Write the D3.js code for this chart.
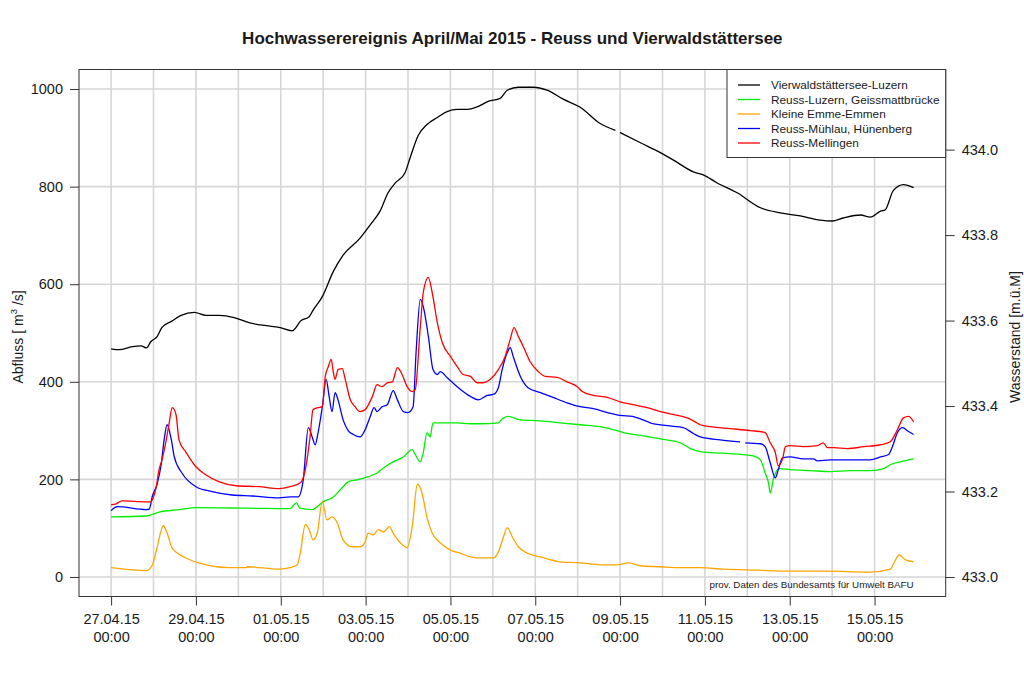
<!DOCTYPE html>
<html><head><meta charset="utf-8">
<script src="https://cdn.jsdelivr.net/npm/d3@7"></script>
<style>
body{margin:0;background:#fff}
text{font-family:"Liberation Sans",Arial,Helvetica,sans-serif;fill:#1a1a1a}
</style>
</head><body>
<svg id="chart" width="1024" height="683"></svg>
<script>
// ---------------- DATA ----------------
const titleText = "Hochwasserereignis April/Mai 2015 - Reuss und Vierwaldstättersee";
const startDate = new Date(2015, 3, 27, 0, 0);     // 27.04.15 00:00
// time given as days after 27.04.15 00:00
const xTickDays = [0, 2, 4, 6, 8, 10, 12, 14, 16, 18];
const gridDays = [0,1,2,3,4,5,6,7,8,9,10,11,12,13,14,15,16,17,18];
const flowTicks = [0, 200, 400, 600, 800, 1000];
const levelTicks = [433.0, 433.2, 433.4, 433.6, 433.8, 434.0];
const seriesNames = ["Vierwaldstättersee-Luzern", "Reuss-Luzern, Geissmattbrücke", "Kleine Emme-Emmen", "Reuss-Mühlau, Hünenberg", "Reuss-Mellingen"];
const seriesColors = ["#000000", "#00ee00", "#ffa500", "#0000ff", "#ff0000"];

// lake level [m ü.M.]
const lakeLevel = [[0.00,433.534],[0.19,433.532],[0.50,433.539],[0.71,433.541],[0.83,433.536],[0.94,433.551],[1.08,433.562],[1.20,433.584],[1.42,433.598],[1.65,433.612],[1.96,433.619],[2.24,433.612],[2.55,433.612],[2.90,433.607],[3.25,433.595],[3.66,433.588],[3.96,433.584],[4.27,433.576],[4.48,433.600],[4.67,433.609],[4.76,433.624],[4.98,433.656],[5.24,433.715],[5.47,433.753],[5.87,433.793],[6.11,433.824],[6.34,433.856],[6.53,433.899],[6.70,433.922],[6.93,433.946],[7.05,433.981],[7.24,434.033],[7.45,434.059],[7.69,434.075],[7.92,434.089],[8.16,434.094],[8.40,434.094],[8.66,434.101],[8.89,434.113],[9.17,434.120],[9.34,434.139],[9.60,434.146],[9.95,434.146],[10.28,434.139],[10.66,434.118],[11.06,434.099],[11.53,434.061],[11.89,434.045],[11.95,null],[12.00,434.040],[12.48,434.016],[12.95,433.993],[13.25,433.976],[13.73,433.948],[13.96,433.941],[14.29,433.922],[14.76,433.899],[15.31,433.864],[15.78,433.852],[16.25,433.845],[16.72,433.835],[17.00,433.833],[17.26,433.840],[17.67,433.847],[17.90,433.842],[18.14,433.856],[18.25,433.859],[18.44,433.904],[18.68,433.918],[18.92,433.911]];

// discharge [m3/s]
const reussLuzern = [[0.00,123],[0.83,125],[1.13,133],[1.60,138],[2.00,142],[3.18,141],[4.22,140],[4.37,152],[4.45,141],[4.74,138],[5.00,154],[5.24,164],[5.47,185],[5.59,195],[5.80,199],[6.04,205],[6.27,213],[6.46,226],[6.65,236],[6.89,246],[7.10,261],[7.17,251],[7.29,236],[7.36,255],[7.45,296],[7.52,287],[7.59,316],[7.71,316],[8.16,316],[8.47,314],[8.70,314],[9.13,316],[9.22,324],[9.36,329],[9.65,322],[10.12,320],[10.59,316],[11.06,312],[11.53,308],[11.84,302],[12.08,296],[12.48,290],[12.95,283],[13.42,275],[13.66,263],[13.89,257],[14.13,255],[14.60,253],[15.14,248],[15.31,240],[15.42,213],[15.50,193],[15.54,172],[15.61,199],[15.68,216],[15.75,222],[16.01,220],[16.49,218],[16.96,216],[17.43,218],[17.90,218],[18.21,222],[18.37,230],[18.61,236],[18.92,242]];

const kleineEmme = [[0.00,19],[0.83,13],[0.97,24],[1.08,59],[1.23,105],[1.32,90],[1.44,59],[1.77,39],[2.24,25],[2.78,19],[3.18,19],[3.21,21],[3.96,16],[4.22,19],[4.39,25],[4.46,49],[4.58,108],[4.67,97],[4.76,76],[4.86,90],[4.98,155],[5.09,117],[5.21,123],[5.33,111],[5.47,76],[5.68,62],[5.87,62],[5.99,72],[6.06,90],[6.18,86],[6.30,97],[6.42,92],[6.56,103],[6.65,90],[6.82,70],[6.98,60],[7.10,103],[7.22,190],[7.33,172],[7.45,121],[7.57,90],[7.76,70],[8.00,55],[8.23,49],[8.47,41],[8.63,39],[9.01,39],[9.13,51],[9.25,82],[9.34,101],[9.46,82],[9.60,62],[9.81,49],[10.12,41],[10.59,31],[11.06,29],[11.53,25],[11.93,25],[12.19,29],[12.48,23],[12.95,21],[13.42,19],[13.89,19],[14.43,16],[15.24,14],[16.01,12],[16.79,12],[17.90,10],[18.37,16],[18.47,31],[18.58,45],[18.73,35],[18.92,31]];

const reussMuehlau = [[0.00,136],[0.14,144],[0.83,138],[0.90,139],[0.97,165],[1.08,189],[1.18,230],[1.25,281],[1.32,312],[1.42,281],[1.49,246],[1.67,213],[2.00,185],[2.38,175],[2.85,168],[3.33,166],[3.96,162],[4.22,164],[4.41,164],[4.53,199],[4.65,306],[4.74,287],[4.81,271],[4.88,296],[4.98,349],[5.07,405],[5.14,370],[5.21,339],[5.28,378],[5.35,363],[5.47,322],[5.59,300],[5.71,292],[5.87,287],[5.99,302],[6.11,329],[6.20,347],[6.27,339],[6.39,349],[6.51,353],[6.65,382],[6.75,363],[6.89,339],[7.00,337],[7.12,349],[7.19,460],[7.29,569],[7.36,554],[7.48,493],[7.59,425],[7.69,415],[7.76,421],[7.92,409],[8.16,390],[8.47,370],[8.66,363],[8.87,372],[9.01,374],[9.13,388],[9.22,425],[9.34,460],[9.41,470],[9.48,452],[9.65,411],[9.83,388],[10.12,378],[10.42,368],[10.75,357],[11.06,349],[11.37,345],[11.70,337],[12.00,331],[12.29,329],[12.48,324],[12.71,316],[13.11,310],[13.49,306],[13.73,294],[13.89,287],[14.36,281],[14.83,277],[14.89,null],[14.95,275],[15.31,273],[15.42,267],[15.54,234],[15.66,203],[15.73,220],[15.83,244],[16.01,246],[16.32,242],[16.56,242],[16.65,238],[16.96,240],[17.43,240],[17.90,240],[18.14,246],[18.33,251],[18.42,267],[18.54,296],[18.66,306],[18.80,298],[18.92,292]];

const reussMellingen = [[0.00,148],[0.12,150],[0.26,156],[0.83,154],[0.94,154],[0.97,158],[1.06,183],[1.13,220],[1.20,240],[1.30,281],[1.37,316],[1.44,347],[1.53,333],[1.60,281],[1.77,255],[2.00,226],[2.24,209],[2.55,195],[2.95,187],[3.49,185],[3.96,181],[4.22,185],[4.46,193],[4.58,220],[4.69,287],[4.76,343],[4.88,347],[4.98,349],[5.05,411],[5.12,431],[5.19,446],[5.24,419],[5.28,405],[5.35,425],[5.45,427],[5.52,405],[5.64,363],[5.75,349],[5.87,339],[5.99,343],[6.16,370],[6.27,394],[6.39,390],[6.51,398],[6.63,400],[6.75,429],[6.86,415],[6.98,390],[7.10,380],[7.17,384],[7.29,513],[7.36,583],[7.48,614],[7.57,583],[7.69,522],[7.81,480],[8.00,452],[8.16,431],[8.30,415],[8.47,411],[8.63,398],[8.77,398],[8.94,405],[9.13,425],[9.29,452],[9.41,487],[9.50,511],[9.60,493],[9.72,472],[9.88,441],[10.07,421],[10.24,411],[10.52,409],[10.75,400],[10.99,390],[11.11,380],[11.37,372],[11.70,368],[12.00,359],[12.31,353],[12.64,347],[12.95,339],[13.25,333],[13.58,326],[13.77,318],[13.89,312],[14.13,308],[14.60,304],[15.07,300],[15.42,296],[15.54,275],[15.66,255],[15.73,228],[15.83,242],[15.90,267],[16.01,269],[16.32,267],[16.65,269],[16.79,275],[16.89,265],[17.03,265],[17.36,263],[17.74,267],[18.14,271],[18.37,277],[18.54,302],[18.68,326],[18.80,329],[18.92,318]];

const sourceNote = "prov. Daten des Bundesamts für Umwelt BAFU";

// ---------------- CHART ----------------
const svg = d3.select("#chart");
const W = 1024, H = 683;
const box = {left: 79, right: 945.7, top: 69.5, bottom: 596.5};
const DAY = 86400000;
const toDate = d => new Date(startDate.getTime() + d * DAY);
const FONT = '"Liberation Sans",Arial,Helvetica,sans-serif';

const x = d3.scaleTime()
  .domain([toDate(-0.757), toDate(19.677)])
  .range([box.left, box.right]);
const yFlow = d3.scaleLinear().domain([-40, 1040]).range([box.bottom, box.top]);
const yLevel = d3.scaleLinear().domain([432.9543, 434.1875]).range([box.bottom, box.top]);

svg.append("rect").attr("width", W).attr("height", H).attr("fill", "#fff");

// grid
const grid = svg.append("g").attr("stroke", "#d6d6d6").attr("stroke-width", 1.6);
grid.selectAll("line.v").data(gridDays).join("line")
  .attr("x1", d => x(toDate(d))).attr("x2", d => x(toDate(d)))
  .attr("y1", box.top).attr("y2", box.bottom);
grid.selectAll("line.h").data(flowTicks).join("line")
  .attr("x1", box.left).attr("x2", box.right)
  .attr("y1", d => yFlow(d)).attr("y2", d => yFlow(d));

// series
const series = [
  {name: seriesNames[0], color: seriesColors[0], data: lakeLevel, y: yLevel},
  {name: seriesNames[1], color: seriesColors[1], data: reussLuzern, y: yFlow},
  {name: seriesNames[2], color: seriesColors[2], data: kleineEmme, y: yFlow},
  {name: seriesNames[3], color: seriesColors[3], data: reussMuehlau, y: yFlow},
  {name: seriesNames[4], color: seriesColors[4], data: reussMellingen, y: yFlow}
];
const lines = svg.append("g").attr("fill", "none").attr("stroke-width", 1.3).attr("stroke-linejoin", "round");
series.forEach(s => {
  const gen = d3.line().defined(d => d[1] !== null).curve(d3.curveMonotoneX)
    .x(d => x(toDate(d[0]))).y(d => s.y(d[1]));
  lines.append("path").attr("d", gen(s.data)).attr("stroke", s.color);
});

// box
svg.append("rect").attr("x", box.left).attr("y", box.top)
  .attr("width", box.right - box.left).attr("height", box.bottom - box.top)
  .attr("fill", "none").attr("stroke", "#333").attr("stroke-width", 1);

// axes
const fmtDate = d3.timeFormat("%d.%m.%y");
const fmtTime = d3.timeFormat("%H:%M");
const xAxis = svg.append("g").attr("transform", `translate(0,${box.bottom})`)
  .call(d3.axisBottom(x).tickValues(xTickDays.map(toDate)).tickSize(9).tickFormat(""));
xAxis.select(".domain").remove();
xAxis.selectAll(".tick line").attr("stroke", "#333");
xAxis.selectAll(".tick").each(function(d) {
  const t = d3.select(this).append("text").attr("text-anchor", "middle")
    .attr("font-size", 14.5).attr("fill", "#1a1a1a").style("font-family", FONT);
  t.append("tspan").attr("x", 0).attr("y", 27.5).text(fmtDate(d));
  t.append("tspan").attr("x", 0).attr("y", 45).text(fmtTime(d));
});

const yAxisL = svg.append("g").attr("transform", `translate(${box.left},0)`)
  .call(d3.axisLeft(yFlow).tickValues(flowTicks).tickSize(9).tickPadding(7).tickFormat(d3.format("d")));
yAxisL.select(".domain").remove();
yAxisL.selectAll(".tick line").attr("stroke", "#333");
yAxisL.selectAll(".tick text").attr("font-size", 14.5).attr("fill", "#1a1a1a").style("font-family", FONT);

const yAxisR = svg.append("g").attr("transform", `translate(${box.right},0)`)
  .call(d3.axisRight(yLevel).tickValues(levelTicks).tickSize(9).tickPadding(7).tickFormat(d3.format(".1f")));
yAxisR.select(".domain").remove();
yAxisR.selectAll(".tick line").attr("stroke", "#333");
yAxisR.selectAll(".tick text").attr("font-size", 14.5).attr("fill", "#1a1a1a").style("font-family", FONT);

// titles
svg.append("text").attr("x", (box.left + box.right) / 2).attr("y", 44)
  .attr("text-anchor", "middle").attr("font-size", 17).attr("font-weight", "bold")
  .text(titleText);

const midY = 337;
const lt = svg.append("text").attr("transform", `translate(22.5,${midY}) rotate(-90)`)
  .attr("text-anchor", "middle").attr("font-size", 14);
lt.append("tspan").text("Abfluss [ m");
lt.append("tspan").attr("font-size", 9.5).attr("dy", -5.5).text("3");
lt.append("tspan").attr("dy", 5.5).text(" /s]");

svg.append("text").attr("transform", `translate(1019.5,${midY}) rotate(-90)`)
  .attr("text-anchor", "middle").attr("font-size", 14).text("Wasserstand [m.ü.M]");

// source note
svg.append("text").attr("x", x(toDate(18.92))).attr("y", 588)
  .attr("text-anchor", "end").attr("font-size", 9.8).text(sourceNote);

// legend
const lg = {x: 727, y: 69.5, w: box.right - 727, h: 88, row: 14.5};
svg.append("rect").attr("x", lg.x).attr("y", lg.y).attr("width", lg.w).attr("height", lg.h)
  .attr("fill", "#fff").attr("stroke", "#333").attr("stroke-width", 1);
const items = svg.append("g").selectAll("g").data(series).join("g")
  .attr("transform", (d, i) => `translate(${lg.x},${lg.y + 15.5 + i * lg.row})`);
items.append("line").attr("x1", 11).attr("x2", 33).attr("stroke", d => d.color).attr("stroke-width", 1.3);
items.append("text").attr("x", 44).attr("y", 4.2).attr("font-size", 11.8).text(d => d.name);
</script>
</body></html>
